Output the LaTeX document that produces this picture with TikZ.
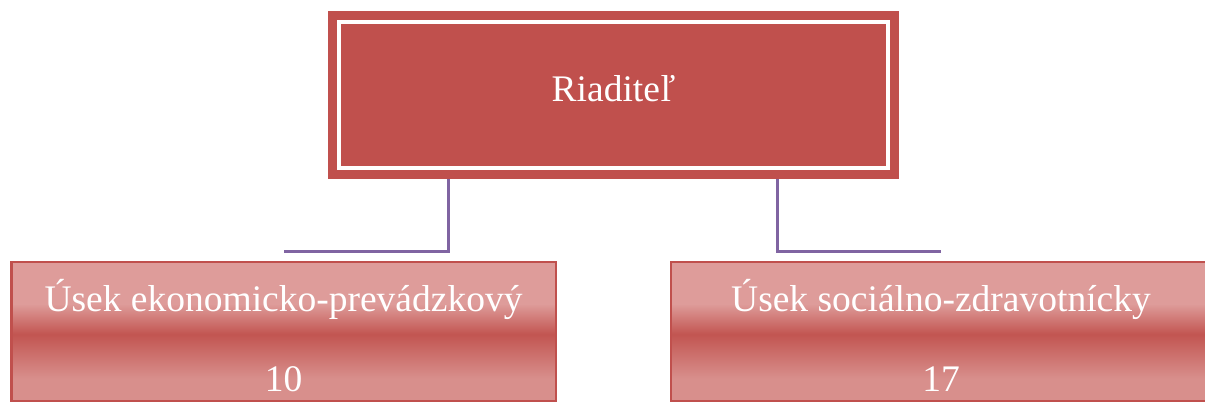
\documentclass[tikz,border=0pt]{standalone}
\usepackage{fontspec}
\setmainfont{Liberation Serif}
\definecolor{bossred}{HTML}{C0504D}
\definecolor{linkviolet}{HTML}{8064A2}
\definecolor{unittop}{HTML}{DE9C9A}
\definecolor{unitmid}{HTML}{C25551}
\definecolor{unitbot}{HTML}{D88F8C}
\pgfdeclareverticalshading{unitband}{100bp}{color(0bp)=(unitbot); color(25bp)=(unitbot); color(33bp)=(unitbot); color(49bp)=(unitmid); color(60bp)=(unittop); color(75bp)=(unittop); color(100bp)=(unittop)}
\begin{document}
\begin{tikzpicture}[x=1pt,y=-1pt,
  bossbox/.style={fill=bossred, minimum width=571pt, minimum height=168pt, inner sep=0pt},
  unitbox/.style={shading=unitband, draw=bossred, line width=2.5pt, minimum height=138.5pt, inner sep=0pt},
  unittext/.style={text=white, anchor=base, inner sep=0pt, font=\fontsize{37.5}{40}\selectfont},
  link/.style={draw=linkviolet, line width=2.2pt}]
\useasboundingbox (0,0) rectangle (1205,403);
% director
\node[bossbox] (boss) at (613.5,95) {};
\draw[white, line width=4pt] ([xshift=11pt,yshift=-11pt]boss.north west) rectangle ([xshift=-11pt,yshift=11pt]boss.south east);
\node[unittext] (bosstext) at (613.5,102) {Riaditeľ};
% units
\node[unitbox, minimum width=544.5pt] (econ) at (283.5,331.5) {};
\node[unittext] (econtext) at (283.5,312) {Úsek ekonomicko-prevádzkový};
\node[unittext] (econnum) at (283.5,391) {10};
\node[unitbox, minimum width=540pt] (care) at (941,331.5) {};
\node[unittext] (caretext) at (941,312) {Úsek sociálno-zdravotnícky};
\node[unittext] (carenum) at (941,391) {17};
% links
\coordinate (ljoin) at (448.5,251.5);
\coordinate (rjoin) at (777.5,251.5);
\draw[link] (boss.south -| ljoin) -- (ljoin) -- (ljoin -| econ.north);
\draw[link] (boss.south -| rjoin) -- (rjoin) -- (rjoin -| care.north);
\end{tikzpicture}
\end{document}
